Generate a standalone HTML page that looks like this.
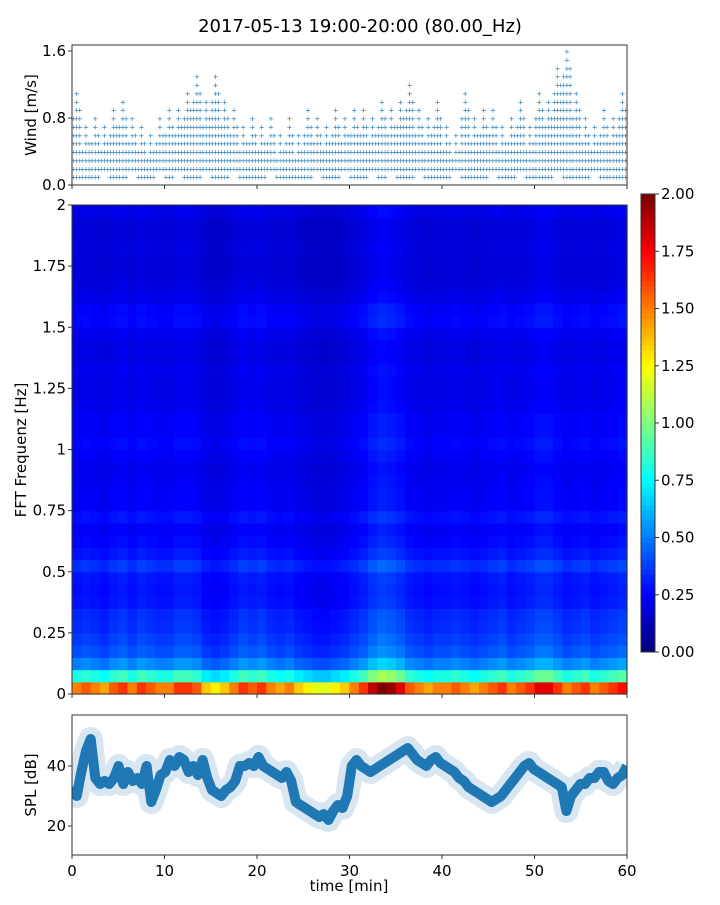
<!DOCTYPE html>
<html><head><meta charset="utf-8"><style>
body{margin:0;background:#fff;font-family:"Liberation Sans","DejaVu Sans",sans-serif}
svg text{font-family:"DejaVu Sans","Liberation Sans",sans-serif;fill:#000}
</style></head><body>
<svg id="c" width="720" height="900" viewBox="0 0 720 900">
<text x="360" y="32" font-size="18" text-anchor="middle">2017-05-13 19:00-20:00 (80.00_Hz)</text>
<g id="wind"></g>
<g id="heat"></g>
<g id="cbar"></g>
<g id="spl"></g>
</svg>
<script>
const windMax=[1.1,0.7,0.8,0.7,0.9,1.0,0.8,0.7,0.6,0.8,0.9,0.9,1.1,1.3,1.0,1.3,1.0,0.9,0.7,0.8,0.7,0.8,0.6,0.8,0.6,0.9,0.8,0.7,0.9,0.8,0.9,0.9,0.8,1.0,0.9,1.0,1.2,0.9,0.8,1.0,0.7,0.6,1.1,0.8,0.9,0.9,0.7,0.8,1.0,0.7,1.1,1.0,1.4,1.6,1.1,0.8,0.7,0.9,0.8,1.1];
const windMin=[0.1,0.1,0.1,0.2,0.1,0.1,0.2,0.1,0.1,0.2,0.1,0.2,0.1,0.1,0.2,0.1,0.1,0.2,0.1,0.1,0.1,0.2,0.1,0.1,0.1,0.1,0.2,0.1,0.1,0.2,0.1,0.1,0.2,0.1,0.2,0.1,0.1,0.2,0.1,0.1,0.1,0.2,0.1,0.1,0.1,0.2,0.1,0.1,0.2,0.1,0.1,0.1,0.2,0.1,0.1,0.1,0.2,0.1,0.1,0.1];
const windTicks=[0.0,0.8,1.6];
const rowLevel=[1.5,0.8,0.5,0.4,0.36,0.33,0.32,0.28,0.27,0.28,0.34,0.28,0.25,0.23,0.27,0.23,0.23,0.22,0.21,0.23,0.25,0.23,0.23,0.21,0.2,0.2,0.21,0.19,0.19,0.21,0.25,0.24,0.2,0.18,0.17,0.17,0.18,0.17,0.17,0.2];
const colGain=[1.0,1.05,1.0,0.95,1.05,1.1,1.0,1.1,1.05,1.0,1.0,1.1,1.1,1.05,0.9,0.85,0.9,1.0,1.1,1.05,1.1,1.0,0.95,1.0,0.9,0.85,0.8,0.8,0.85,0.9,1.0,1.1,1.25,1.35,1.3,1.2,1.05,1.0,0.95,1.0,1.0,1.05,1.0,0.95,1.0,1.05,1.1,1.0,1.05,1.1,1.2,1.2,1.1,1.0,1.05,1.1,1.0,1.05,1.1,1.15];
const heatTicks=[0,0.25,0.5,0.75,1,1.25,1.5,1.75,2];
const heatTickLabels=["0","0.25","0.5","0.75","1","1.25","1.5","1.75","2"];
const cbarTicks=[0,0.25,0.5,0.75,1,1.25,1.5,1.75,2];
const splVals=[33,30,38,45,49,36,34,35,34,36,40,34,38,35,36,34,40,28,32,37,38,42,40,43,42,38,40,37,42,36,32,31,30,32,33,35,40,40,41,40,43,40,39,38,37,36,38,35,28,27,26,25,24,23,24,22,25,27,26,30,40,42,40,39,38,39,40,41,42,43,44,45,46,44,42,41,40,42,43,41,40,39,38,36,35,33,32,31,30,29,28,29,30,32,34,36,38,40,41,39,38,37,36,35,34,33,25,30,32,34,34,36,36,38,38,35,34,36,37,40];
const splTicks=[20,40];
const timeTicks=[0,10,20,30,40,50,60];

const NS="http://www.w3.org/2000/svg";
function mk(p,tag,at,txt){const e=document.createElementNS(NS,tag);for(const k in at)e.setAttribute(k,at[k]);if(txt!=null)e.textContent=txt;p.appendChild(e);return e;}
const X0=72,X1=627;
const xs=t=>X0+(X1-X0)*t/60;
function jet(v){v=Math.max(0,Math.min(1,v));const r=Math.max(0,Math.min(1,1.5-Math.abs(4*v-3))),g=Math.max(0,Math.min(1,1.5-Math.abs(4*v-2))),b=Math.max(0,Math.min(1,1.5-Math.abs(4*v-1)));return `rgb(${r*255|0},${g*255|0},${b*255|0})`;}

// wind
const W=document.getElementById('wind');
const wy=v=>185-(185-51)*v/1.6;
const offs=[0.15,0.5,0.85],drop=[0.3,0,0.2];
for(let m=0;m<60;m++){for(let s=0;s<3;s++){const t=m+offs[s];const top=Math.max(windMin[m],windMax[m]-drop[s]);
for(let l=windMin[m];l<=top+1e-6;l+=0.1){const p=mk(W,'text',{x:xs(t),y:wy(l)+3,'font-size':'7','text-anchor':'middle',style:'fill:#1f77b4'},'+');

}}}
mk(W,'rect',{x:X0,y:45,width:X1-X0,height:140,fill:'none',stroke:'#333','stroke-width':1});
windTicks.forEach(v=>{mk(W,'line',{x1:X0-4,x2:X0,y1:wy(v),y2:wy(v),stroke:'#333'});const t=mk(W,'text',{x:X0-6,y:wy(v)+5,'font-size':'15','text-anchor':'end'},v.toFixed(1));});
timeTicks.forEach(v=>mk(W,'line',{x1:xs(v),x2:xs(v),y1:185,y2:189,stroke:'#333'}));
mk(W,'text',{x:36,y:115,'font-size':'15','text-anchor':'middle',transform:'rotate(-90 36 115)',},'Wind [m/s]');

// heatmap
const H=document.getElementById('heat');
const hy=f=>694-(694-205)*f/2;
const cw=(X1-X0)/60,rh=(694-205)/rowLevel.length;
for(let r=0;r<rowLevel.length;r++)for(let c=0;c<60;c++){const v=rowLevel[r]*colGain[c];
const e=mk(H,'rect',{x:(X0+c*cw).toFixed(2),y:(694-(r+1)*rh).toFixed(2),width:(cw+0.6).toFixed(2),height:(rh+0.6).toFixed(2),fill:jet(v/2)});

}
mk(H,'rect',{x:X0,y:205,width:X1-X0,height:489,fill:'none',stroke:'#333'});
heatTicks.forEach((v,i)=>{mk(H,'line',{x1:X0-4,x2:X0,y1:hy(v),y2:hy(v),stroke:'#333'});mk(H,'text',{x:X0-6,y:hy(v)+5,'font-size':'15','text-anchor':'end'},heatTickLabels[i]);});
timeTicks.forEach(v=>mk(H,'line',{x1:xs(v),x2:xs(v),y1:694,y2:698,stroke:'#333'}));
mk(H,'text',{x:26,y:450,'font-size':'15','text-anchor':'middle',transform:'rotate(-90 26 450)',},'FFT Frequenz [Hz]');

// colorbar
const C=document.getElementById('cbar');
const cy=v=>652-(652-194)*v/2;
for(let i=0;i<100;i++){mk(C,'rect',{x:641,y:(652-(i+1)*4.58).toFixed(2),width:14,height:5.1,fill:jet(i/99)});}
mk(C,'rect',{x:641,y:194,width:14,height:458,fill:'none',stroke:'#333'});
cbarTicks.forEach(v=>{mk(C,'line',{x1:655,x2:659,y1:cy(v),y2:cy(v),stroke:'#333'});mk(C,'text',{x:661,y:cy(v)+5,'font-size':'15'},v.toFixed(2));});

// spl
const S=document.getElementById('spl');
const sy=v=>766-(826-766)*(v-40)/20;
const pts=splVals.map((v,i)=>xs(i*60/(splVals.length-1)).toFixed(1)+','+sy(v).toFixed(1)).join(' ');
mk(S,'defs',{}).innerHTML='<clipPath id="sc"><rect x="72" y="715" width="555" height="140"/></clipPath>';
const g=mk(S,'g',{'clip-path':'url(#sc)'});
const l1=mk(g,'polyline',{points:pts,fill:'none',stroke:'#1f77b4','stroke-opacity':0.18,'stroke-width':24,'stroke-linejoin':'round'});


const l2=mk(g,'polyline',{points:pts,fill:'none',stroke:'#1f77b4','stroke-width':10,'stroke-linejoin':'round'});


mk(S,'rect',{x:X0,y:715,width:X1-X0,height:140,fill:'none',stroke:'#333'});
splTicks.forEach(v=>{mk(S,'line',{x1:X0-4,x2:X0,y1:sy(v),y2:sy(v),stroke:'#333'});mk(S,'text',{x:X0-6,y:sy(v)+5,'font-size':'15','text-anchor':'end'},v);});
timeTicks.forEach(v=>{mk(S,'line',{x1:xs(v),x2:xs(v),y1:855,y2:859,stroke:'#333'});mk(S,'text',{x:xs(v),y:876,'font-size':'15','text-anchor':'middle'},v);});
mk(S,'text',{x:36,y:785,'font-size':'15','text-anchor':'middle',transform:'rotate(-90 36 785)',},'SPL [dB]');
mk(S,'text',{x:349,y:891,'font-size':'15','text-anchor':'middle',},'time [min]');
</script>
</body></html>
